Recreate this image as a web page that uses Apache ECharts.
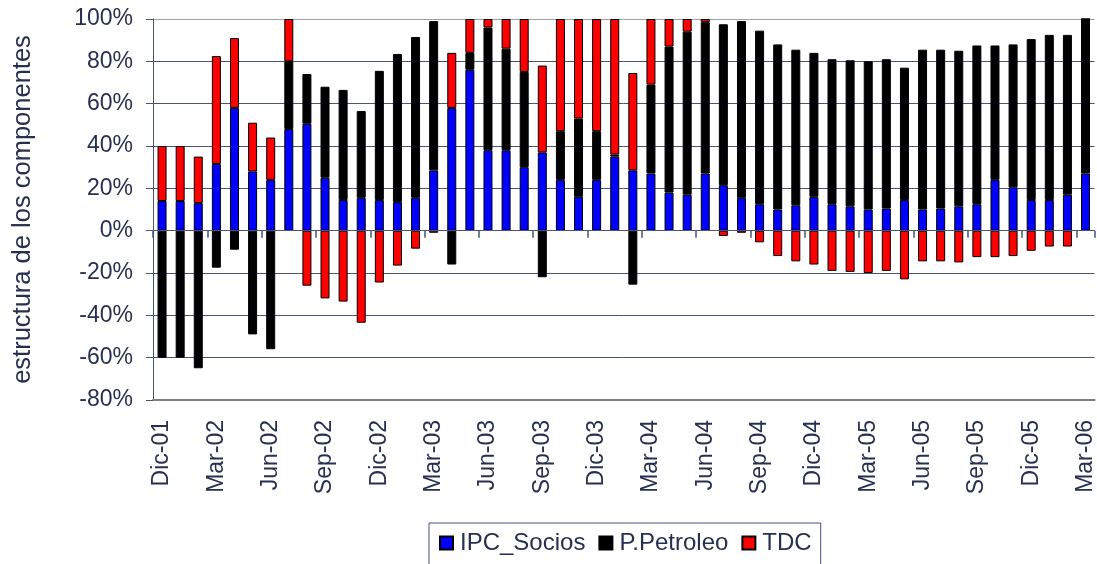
<!DOCTYPE html>
<html>
<head>
<meta charset="utf-8">
<script src="https://cdn.jsdelivr.net/npm/echarts@6/dist/echarts.min.js"></script>
<style>
  html, body { margin: 0; padding: 0; background: #fff; }
  #chart { width: 1097px; height: 564px; }
</style>
</head>
<body>
<div id="chart"></div>
<script>
// meses Dic-01 .. Mar-06
const months = ['Ene', 'Feb', 'Mar', 'Abr', 'May', 'Jun', 'Jul', 'Ago', 'Sep', 'Oct', 'Nov', 'Dic'];
const categories = ['Dic-01'];
['02', '03', '04', '05'].forEach(y => months.forEach(m => categories.push(m + '-' + y)));
['Ene', 'Feb', 'Mar'].forEach(m => categories.push(m + '-06'));

const ipcSocios = [14, 14, 13, 31.5, 58, 28, 24, 48, 50.5, 25, 14.5, 15.5, 14.5, 13.5, 15.5, 28.5,
  58, 76, 38, 38, 30, 37, 24, 16, 24, 35, 28.5, 27, 18, 17, 27, 21.5, 15.5, 12.5, 10, 12,
  16, 12.5, 11.5, 10, 10.5, 14.5, 10, 10.5, 11.5, 12.5, 24, 20.5, 14.5, 14.5, 17, 27];
const pPetroleo = [-60, -60, -65, -17.5, -9, -49, -56, 32, 23.5, 43, 52, 41, 61, 70, 76, 70.5,
  -16, 8, 58, 48, 45, -22, 23, 37, 23, 1, -25.5, 42, 69, 77, 71.5, 76, 83.5, 82, 78, 73.5,
  68, 68.5, 69, 70, 70.5, 62.5, 75.5, 75, 73.5, 75, 63.5, 67.5, 76, 78, 75.5, 73];
const tdc = [26, 26, 22, 51, 33, 23, 20, 20, -26, -32, -33.5, -43.5, -24.5, -16.5, -8.5, -1,
  26, 16, 4, 14, 25, 41, 53, 47, 53, 64, 46, 31, 13, 6, 1.5, -2.5, -1, -5.5, -12, -14.5,
  -16, -19, -19.5, -20, -19, -23, -14.5, -14.5, -15, -12.5, -12.5, -12, -9.5, -7.5, -7.5, 0];

const textColor = '#283050';
const navy = '#4a5472';
const font = 'Liberation Sans, Arial, sans-serif';

function barSeries(name, data, color) {
  return {
    name: name,
    type: 'bar',
    stack: 'total',
    barWidth: 9,
    data: data,
    itemStyle: { color: color, borderColor: '#000', borderWidth: 1 }
  };
}

let option = {
  animation: false,
  textStyle: { fontFamily: font },
  grid: { left: 153, right: 1, top: 19, bottom: 164 },
  legend: {
    left: 429,
    top: 523,
    padding: [8, 9, 12, 10],
    itemGap: 13,
    itemWidth: 13,
    itemHeight: 13,
    icon: 'rect',
    borderColor: navy,
    borderWidth: 1,
    borderRadius: 0,
    textStyle: { fontSize: 24, color: textColor, fontFamily: font, padding: [0, 0, 0, 2] },
    data: ['IPC_Socios', 'P.Petroleo', 'TDC']
  },
  xAxis: [
    {
      type: 'category',
      data: categories,
      position: 'bottom',
      axisLine: { onZero: false, lineStyle: { color: '#808080', width: 2 } },
      axisTick: { show: false },
      axisLabel: { interval: 2, rotate: 90, margin: 20, fontSize: 23, color: textColor, fontFamily: font }
    },
    {
      // ticks sobre la linea del 0%
      type: 'category',
      data: categories,
      position: 'bottom',
      axisLine: { show: true, onZero: true, onZeroAxisIndex: 0, lineStyle: { color: navy, width: 1 } },
      axisTick: { show: true, interval: 2, length: 7, lineStyle: { color: navy, width: 1.5 } },
      axisLabel: { show: false },
      z: 5
    }
  ],
  yAxis: {
    type: 'value',
    min: -80,
    max: 100,
    interval: 20,
    name: 'estructura de los componentes',
    nameLocation: 'middle',
    nameRotate: 90,
    nameGap: 117,
    nameTextStyle: { fontSize: 25.5, color: textColor, fontFamily: font },
    axisLine: { show: true, lineStyle: { color: navy, width: 1 } },
    axisTick: { show: true, length: 7, lineStyle: { color: navy } },
    axisLabel: { formatter: '{value}%', margin: 20, fontSize: 23, color: textColor, fontFamily: font },
    splitLine: {
      show: true,
      lineStyle: {
        color: ['#808080', navy, navy, navy, navy, navy, navy, navy, navy, '#a0a0a0'],
        width: 1
      }
    }
  },
  series: [
    barSeries('IPC_Socios', ipcSocios, '#0000ff'),
    barSeries('P.Petroleo', pPetroleo, '#000000'),
    barSeries('TDC', tdc, '#ff0000')
  ]
};

const theChart = echarts.init(document.getElementById('chart'));
option && theChart.setOption(option);
</script>
</body>
</html>
